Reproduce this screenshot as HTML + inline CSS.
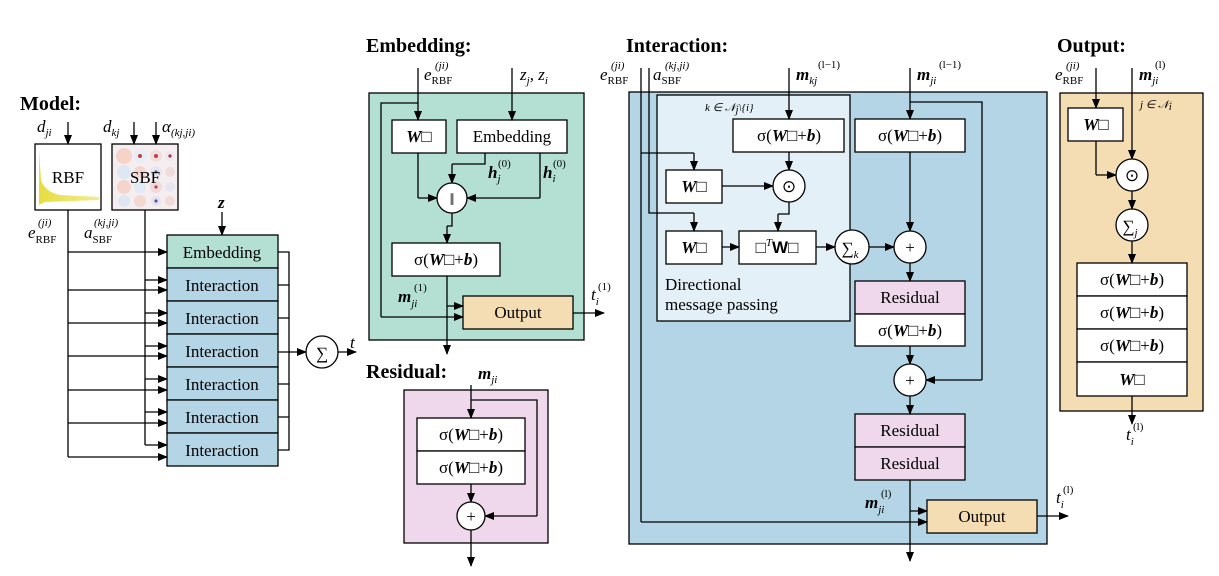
<!DOCTYPE html>
<html><head><meta charset="utf-8"><style>
body{margin:0;background:#fff}
svg{display:block}
text{font-family:"Liberation Serif",serif;fill:#000}
.b{font-weight:bold;font-size:20px}
.t{font-size:17px}
.m{font-style:italic;font-size:17px}
.s{font-size:11px;font-style:normal}
.si{font-size:11px;font-style:italic}
.w{font-weight:bold;font-style:italic}
.n{font-style:normal;font-weight:normal}
</style></head><body>
<svg width="1219" height="576" viewBox="0 0 1219 576" xmlns="http://www.w3.org/2000/svg">
<defs>
<marker id="a" markerWidth="10" markerHeight="8" refX="9" refY="4" orient="auto" markerUnits="userSpaceOnUse">
<path d="M0,0 L10,4 L0,8 Z" fill="#000"/></marker>
<linearGradient id="rbf" x1="0" y1="0" x2="1" y2="0"><stop offset="0" stop-color="#e8dc40"/><stop offset="1" stop-color="#f3ec90"/></linearGradient>
</defs>
<g stroke="#000" stroke-width="1.3" fill="none">

<rect x="35" y="144" width="66" height="66" fill="#fff"/>
<path d="M39,150 L41,180 Q45,192 60,195 L99,197 L99,200 L45,202 L39,205 Z" fill="url(#rbf)" stroke="none"/>
<rect x="112" y="144" width="66" height="66" fill="#f4eef0"/>
<g stroke="none">
<circle cx="124" cy="156" r="8" fill="#f6d3c8"/><circle cx="140" cy="156" r="7" fill="#e7eef6"/><circle cx="156" cy="156" r="6" fill="#f1dede"/><circle cx="170" cy="156" r="5" fill="#ece7ef"/>
<circle cx="124" cy="172" r="7" fill="#dfe7f3"/><circle cx="140" cy="172" r="6" fill="#f3d6d0"/><circle cx="156" cy="172" r="6" fill="#e9e4ee"/><circle cx="170" cy="172" r="5" fill="#f0dcdc"/>
<circle cx="124" cy="187" r="7" fill="#f4d4cc"/><circle cx="140" cy="187" r="6" fill="#e2eaf4"/><circle cx="156" cy="187" r="6" fill="#f0dada"/><circle cx="170" cy="187" r="5" fill="#e6e6f0"/>
<circle cx="124" cy="201" r="6" fill="#dfe6f2"/><circle cx="140" cy="201" r="6" fill="#f3d8d2"/><circle cx="156" cy="201" r="5" fill="#e9e2ee"/><circle cx="170" cy="201" r="5" fill="#f0dada"/>
<circle cx="140" cy="156" r="2" fill="#c04040"/><circle cx="156" cy="156" r="2" fill="#c04040"/><circle cx="170" cy="156" r="1.6" fill="#b03040"/>
<circle cx="156" cy="172" r="1.6" fill="#4060a0"/><circle cx="156" cy="187" r="1.6" fill="#c04040"/><circle cx="156" cy="201" r="1.6" fill="#4060a0"/>
</g>
<line x1="68" y1="122" x2="68" y2="144" marker-end="url(#a)"/>
<line x1="134" y1="122" x2="134" y2="144" marker-end="url(#a)"/>
<line x1="156" y1="122" x2="156" y2="144" marker-end="url(#a)"/>
<line x1="222" y1="212" x2="222" y2="235" marker-end="url(#a)"/>

<rect x="167" y="235" width="111" height="33" fill="#b3e0d2"/>
<rect x="167" y="268" width="111" height="33" fill="#b3d5e6"/>
<rect x="167" y="301" width="111" height="33" fill="#b3d5e6"/>
<rect x="167" y="334" width="111" height="33" fill="#b3d5e6"/>
<rect x="167" y="367" width="111" height="33" fill="#b3d5e6"/>
<rect x="167" y="400" width="111" height="33" fill="#b3d5e6"/>
<rect x="167" y="433" width="111" height="33" fill="#b3d5e6"/>

<path d="M68,210 V457"/>
<line x1="68" y1="252" x2="167" y2="252" marker-end="url(#a)"/>
<line x1="68" y1="290" x2="167" y2="290" marker-end="url(#a)"/>
<line x1="68" y1="323" x2="167" y2="323" marker-end="url(#a)"/>
<line x1="68" y1="356" x2="167" y2="356" marker-end="url(#a)"/>
<line x1="68" y1="390" x2="167" y2="390" marker-end="url(#a)"/>
<line x1="68" y1="423" x2="167" y2="423" marker-end="url(#a)"/>
<line x1="68" y1="457" x2="167" y2="457" marker-end="url(#a)"/>
<path d="M145,210 V445"/>
<line x1="145" y1="280" x2="167" y2="280" marker-end="url(#a)"/>
<line x1="145" y1="313" x2="167" y2="313" marker-end="url(#a)"/>
<line x1="145" y1="346" x2="167" y2="346" marker-end="url(#a)"/>
<line x1="145" y1="379" x2="167" y2="379" marker-end="url(#a)"/>
<line x1="145" y1="412" x2="167" y2="412" marker-end="url(#a)"/>
<line x1="145" y1="445" x2="167" y2="445" marker-end="url(#a)"/>
<path d="M278,252 H289 V450 H278 M278,285 H289 M278,318 H289 M278,384 H289 M278,417 H289"/>
<line x1="278" y1="352" x2="306" y2="352" marker-end="url(#a)"/>
<circle cx="322" cy="352" r="16" fill="#fff"/>
<line x1="338" y1="352" x2="356" y2="352" marker-end="url(#a)"/>

<rect x="369" y="93" width="215" height="247" fill="#b3e0d2"/>
<rect x="392" y="120" width="54" height="33" fill="#fff"/>
<rect x="457" y="120" width="110" height="33" fill="#fff"/>
<rect x="392" y="243" width="108" height="33" fill="#fff"/>
<rect x="463" y="296" width="110" height="33" fill="#f5ddb3"/>
<line x1="418" y1="68" x2="418" y2="120" marker-end="url(#a)"/>
<line x1="512" y1="68" x2="512" y2="120" marker-end="url(#a)"/>
<path d="M418,103 H381 V317"/>
<line x1="381" y1="317" x2="463" y2="317" marker-end="url(#a)"/>
<path d="M418,153 V198"/><line x1="418" y1="198" x2="437" y2="198" marker-end="url(#a)"/>
<path d="M485,153 V164 H452"/><line x1="452" y1="164" x2="452" y2="183" marker-end="url(#a)"/>
<path d="M540,153 V198"/><line x1="540" y1="198" x2="467" y2="198" marker-end="url(#a)"/>
<circle cx="452" cy="198" r="15" fill="#fff"/>
<path d="M452,213 V226 H447"/><line x1="447" y1="226" x2="447" y2="243" marker-end="url(#a)"/>
<line x1="447" y1="276" x2="447" y2="354" marker-end="url(#a)"/>
<line x1="447" y1="306" x2="463" y2="306" marker-end="url(#a)"/>
<line x1="573" y1="313" x2="604" y2="313" marker-end="url(#a)"/>

<rect x="404" y="390" width="144" height="153" fill="#f0d8ec"/>
<rect x="417" y="418" width="108" height="33" fill="#fff"/>
<rect x="417" y="451" width="108" height="33" fill="#fff"/>
<line x1="471" y1="385" x2="471" y2="418" marker-end="url(#a)"/>
<path d="M471,400 H537 V516"/><line x1="537" y1="516" x2="485" y2="516" marker-end="url(#a)"/>
<line x1="471" y1="484" x2="471" y2="502" marker-end="url(#a)"/>
<circle cx="471" cy="516" r="14" fill="#fff"/>
<line x1="471" y1="530" x2="471" y2="566" marker-end="url(#a)"/>

<rect x="629" y="92" width="418" height="452" fill="#b3d5e6"/>
<rect x="657" y="95" width="193" height="226" fill="#e3f0f7"/>
<rect x="733" y="119" width="111" height="33" fill="#fff"/>
<rect x="855" y="119" width="110" height="33" fill="#fff"/>
<rect x="666" y="170" width="56" height="33" fill="#fff"/>
<rect x="666" y="231" width="56" height="33" fill="#fff"/>
<rect x="739" y="231" width="77" height="33" fill="#fff"/>
<rect x="855" y="281" width="110" height="33" fill="#f0d8ec"/>
<rect x="855" y="314" width="110" height="32" fill="#fff"/>
<rect x="855" y="414" width="110" height="33" fill="#f0d8ec"/>
<rect x="855" y="447" width="110" height="33" fill="#f0d8ec"/>
<rect x="927" y="500" width="110" height="33" fill="#f5ddb3"/>
<path d="M641,68 V522"/><line x1="641" y1="522" x2="927" y2="522" marker-end="url(#a)"/>
<path d="M649,68 V213 H694"/><line x1="694" y1="213" x2="694" y2="231" marker-end="url(#a)"/>
<path d="M641,153 H694"/><line x1="694" y1="153" x2="694" y2="170" marker-end="url(#a)"/>
<line x1="789" y1="68" x2="789" y2="119" marker-end="url(#a)"/>
<line x1="910" y1="68" x2="910" y2="119" marker-end="url(#a)"/>
<line x1="789" y1="152" x2="789" y2="170" marker-end="url(#a)"/>
<line x1="722" y1="186" x2="773" y2="186" marker-end="url(#a)"/>
<circle cx="789" cy="186" r="16" fill="#fff"/>
<path d="M789,202 V214 H778"/><line x1="778" y1="214" x2="778" y2="231" marker-end="url(#a)"/>
<line x1="722" y1="247" x2="739" y2="247" marker-end="url(#a)"/>
<line x1="816" y1="247" x2="835" y2="247" marker-end="url(#a)"/>
<circle cx="852" cy="247" r="17" fill="#fff"/>
<line x1="869" y1="247" x2="894" y2="247" marker-end="url(#a)"/>
<line x1="910" y1="152" x2="910" y2="231" marker-end="url(#a)"/>
<circle cx="910" cy="247" r="16" fill="#fff"/>
<line x1="910" y1="263" x2="910" y2="281" marker-end="url(#a)"/>
<path d="M910,102 H982 V380"/><line x1="982" y1="380" x2="926" y2="380" marker-end="url(#a)"/>
<line x1="910" y1="346" x2="910" y2="364" marker-end="url(#a)"/>
<circle cx="910" cy="380" r="16" fill="#fff"/>
<line x1="910" y1="396" x2="910" y2="414" marker-end="url(#a)"/>
<line x1="910" y1="480" x2="910" y2="561" marker-end="url(#a)"/>
<line x1="910" y1="511" x2="927" y2="511" marker-end="url(#a)"/>
<line x1="1037" y1="516" x2="1068" y2="516" marker-end="url(#a)"/>

<rect x="1060" y="93" width="143" height="318" fill="#f5ddb3"/>
<rect x="1068" y="108" width="55" height="33" fill="#fff"/>
<rect x="1077" y="263" width="110" height="33" fill="#fff"/>
<rect x="1077" y="296" width="110" height="33" fill="#fff"/>
<rect x="1077" y="329" width="110" height="33" fill="#fff"/>
<rect x="1077" y="362" width="110" height="34" fill="#fff"/>
<line x1="1096" y1="68" x2="1096" y2="108" marker-end="url(#a)"/>
<line x1="1132" y1="68" x2="1132" y2="159" marker-end="url(#a)"/>
<path d="M1096,141 V175"/><line x1="1096" y1="175" x2="1116" y2="175" marker-end="url(#a)"/>
<circle cx="1132" cy="175" r="16" fill="#fff"/>
<line x1="1132" y1="191" x2="1132" y2="209" marker-end="url(#a)"/>
<circle cx="1132" cy="225" r="16" fill="#fff"/>
<line x1="1132" y1="241" x2="1132" y2="263" marker-end="url(#a)"/>
<line x1="1132" y1="396" x2="1132" y2="424" marker-end="url(#a)"/>
</g>

<text x="20" y="110" class="b">Model:</text>
<text x="37" y="132" class="m">d<tspan class="si" dy="4">ji</tspan></text>
<text x="103" y="132" class="m">d<tspan class="si" dy="4">kj</tspan></text>
<text x="162" y="132" class="m">α<tspan class="si" dy="4">(kj,ji)</tspan></text>
<text x="68" y="183" class="t" text-anchor="middle">RBF</text>
<text x="145" y="183" class="t" text-anchor="middle">SBF</text>
<text x="218" y="208" class="m w">z</text>
<text x="28" y="238" class="m">e<tspan class="s" dy="5">RBF</tspan><tspan class="si" x="38" dy="-17">(ji)</tspan></text>
<text x="84" y="238" class="m">a<tspan class="s" dy="5">SBF</tspan><tspan class="si" x="94" dy="-17">(kj,ji)</tspan></text>
<text x="222" y="258" class="t" text-anchor="middle">Embedding</text>
<text x="222" y="291" class="t" text-anchor="middle">Interaction</text>
<text x="222" y="324" class="t" text-anchor="middle">Interaction</text>
<text x="222" y="357" class="t" text-anchor="middle">Interaction</text>
<text x="222" y="390" class="t" text-anchor="middle">Interaction</text>
<text x="222" y="423" class="t" text-anchor="middle">Interaction</text>
<text x="222" y="456" class="t" text-anchor="middle">Interaction</text>
<text x="322" y="359" class="t" text-anchor="middle" font-size="20">∑</text>
<text x="350" y="348" class="m">t</text>

<text x="366" y="52" class="b">Embedding:</text>
<text x="424" y="80" class="m">e<tspan class="s" dy="4">RBF</tspan><tspan class="si" x="435" dy="-15">(ji)</tspan></text>
<text x="520" y="80" class="m">z<tspan class="si" dy="4">j</tspan><tspan dy="-4">, z</tspan><tspan class="si" dy="4">i</tspan></text>
<text x="419" y="142" class="m" text-anchor="middle"><tspan class="w">W</tspan><tspan class="n">□</tspan></text>
<text x="512" y="142" class="t" text-anchor="middle">Embedding</text>
<text x="488" y="178" class="m"><tspan class="w">h</tspan><tspan class="si" dy="4">j</tspan><tspan class="s" x="498" dy="-15">(0)</tspan></text>
<text x="543" y="178" class="m"><tspan class="w">h</tspan><tspan class="si" dy="4">i</tspan><tspan class="s" x="553" dy="-15">(0)</tspan></text>
<text x="452" y="205" class="t" text-anchor="middle">‖</text>
<text x="446" y="265" class="m" text-anchor="middle"><tspan class="n">σ(</tspan><tspan class="w">W</tspan><tspan class="n">□+</tspan><tspan class="w">b</tspan><tspan class="n">)</tspan></text>
<text x="398" y="302" class="m"><tspan class="w">m</tspan><tspan class="si" dy="5">ji</tspan><tspan class="s" x="414" dy="-16">(1)</tspan></text>
<text x="518" y="318" class="t" text-anchor="middle">Output</text>
<text x="591" y="300" class="m">t<tspan class="si" dy="5">i</tspan><tspan class="s" x="598" dy="-15">(1)</tspan></text>

<text x="366" y="378" class="b">Residual:</text>
<text x="478" y="379" class="m"><tspan class="w">m</tspan><tspan class="si" dy="4">ji</tspan></text>
<text x="471" y="440" class="m" text-anchor="middle"><tspan class="n">σ(</tspan><tspan class="w">W</tspan><tspan class="n">□+</tspan><tspan class="w">b</tspan><tspan class="n">)</tspan></text>
<text x="471" y="473" class="m" text-anchor="middle"><tspan class="n">σ(</tspan><tspan class="w">W</tspan><tspan class="n">□+</tspan><tspan class="w">b</tspan><tspan class="n">)</tspan></text>
<text x="471" y="522" class="t" text-anchor="middle">+</text>

<text x="626" y="52" class="b">Interaction:</text>
<text x="600" y="80" class="m">e<tspan class="s" dy="4">RBF</tspan><tspan class="si" x="611" dy="-15">(ji)</tspan></text>
<text x="653" y="80" class="m">a<tspan class="s" dy="4">SBF</tspan><tspan class="si" x="665" dy="-15">(kj,ji)</tspan></text>
<text x="796" y="80" class="m"><tspan class="w">m</tspan><tspan class="si" dy="4">kj</tspan><tspan class="s" x="818" dy="-16">(l−1)</tspan></text>
<text x="917" y="80" class="m"><tspan class="w">m</tspan><tspan class="si" dy="4">ji</tspan><tspan class="s" x="939" dy="-16">(l−1)</tspan></text>
<text x="705" y="111" class="si">k ∈ 𝒩<tspan dy="2">j</tspan><tspan dy="-2">\{i}</tspan></text>
<text x="789" y="141" class="m" text-anchor="middle"><tspan class="n">σ(</tspan><tspan class="w">W</tspan><tspan class="n">□+</tspan><tspan class="w">b</tspan><tspan class="n">)</tspan></text>
<text x="910" y="141" class="m" text-anchor="middle"><tspan class="n">σ(</tspan><tspan class="w">W</tspan><tspan class="n">□+</tspan><tspan class="w">b</tspan><tspan class="n">)</tspan></text>
<text x="694" y="192" class="m" text-anchor="middle"><tspan class="w">W</tspan><tspan class="n">□</tspan></text>
<text x="789" y="192" class="t" text-anchor="middle">⊙</text>
<text x="694" y="253" class="m" text-anchor="middle"><tspan class="w">W</tspan><tspan class="n">□</tspan></text>
<text x="777" y="253" class="t" text-anchor="middle">□<tspan class="si" dy="-7">T</tspan><tspan dy="7" font-family="Liberation Sans" font-weight="bold">W</tspan>□</text>
<text x="850" y="254" class="t" text-anchor="middle" font-size="20">∑<tspan class="si" dy="4">k</tspan></text>
<text x="910" y="253" class="t" text-anchor="middle">+</text>
<text x="665" y="290" class="t">Directional</text>
<text x="665" y="310" class="t">message passing</text>
<text x="910" y="303" class="t" text-anchor="middle">Residual</text>
<text x="910" y="336" class="m" text-anchor="middle"><tspan class="n">σ(</tspan><tspan class="w">W</tspan><tspan class="n">□+</tspan><tspan class="w">b</tspan><tspan class="n">)</tspan></text>
<text x="910" y="386" class="t" text-anchor="middle">+</text>
<text x="910" y="436" class="t" text-anchor="middle">Residual</text>
<text x="910" y="469" class="t" text-anchor="middle">Residual</text>
<text x="865" y="508" class="m"><tspan class="w">m</tspan><tspan class="si" dy="5">ji</tspan><tspan class="s" x="881" dy="-16">(l)</tspan></text>
<text x="982" y="522" class="t" text-anchor="middle">Output</text>
<text x="1056" y="503" class="m">t<tspan class="si" dy="5">i</tspan><tspan class="s" x="1063" dy="-15">(l)</tspan></text>

<text x="1057" y="52" class="b">Output:</text>
<text x="1055" y="80" class="m">e<tspan class="s" dy="4">RBF</tspan><tspan class="si" x="1066" dy="-15">(ji)</tspan></text>
<text x="1139" y="80" class="m"><tspan class="w">m</tspan><tspan class="si" dy="4">ji</tspan><tspan class="s" x="1155" dy="-16">(l)</tspan></text>
<text x="1140" y="108" class="si">j ∈ 𝒩<tspan dy="2">i</tspan></text>
<text x="1096" y="130" class="m" text-anchor="middle"><tspan class="w">W</tspan><tspan class="n">□</tspan></text>
<text x="1132" y="181" class="t" text-anchor="middle">⊙</text>
<text x="1130" y="232" class="t" text-anchor="middle" font-size="20">∑<tspan class="si" dy="4">j</tspan></text>
<text x="1132" y="285" class="m" text-anchor="middle"><tspan class="n">σ(</tspan><tspan class="w">W</tspan><tspan class="n">□+</tspan><tspan class="w">b</tspan><tspan class="n">)</tspan></text>
<text x="1132" y="318" class="m" text-anchor="middle"><tspan class="n">σ(</tspan><tspan class="w">W</tspan><tspan class="n">□+</tspan><tspan class="w">b</tspan><tspan class="n">)</tspan></text>
<text x="1132" y="351" class="m" text-anchor="middle"><tspan class="n">σ(</tspan><tspan class="w">W</tspan><tspan class="n">□+</tspan><tspan class="w">b</tspan><tspan class="n">)</tspan></text>
<text x="1132" y="385" class="m" text-anchor="middle"><tspan class="w">W</tspan><tspan class="n">□</tspan></text>
<text x="1126" y="440" class="m">t<tspan class="si" dy="5">i</tspan><tspan class="s" x="1133" dy="-15">(l)</tspan></text>
</svg>
</body></html>
